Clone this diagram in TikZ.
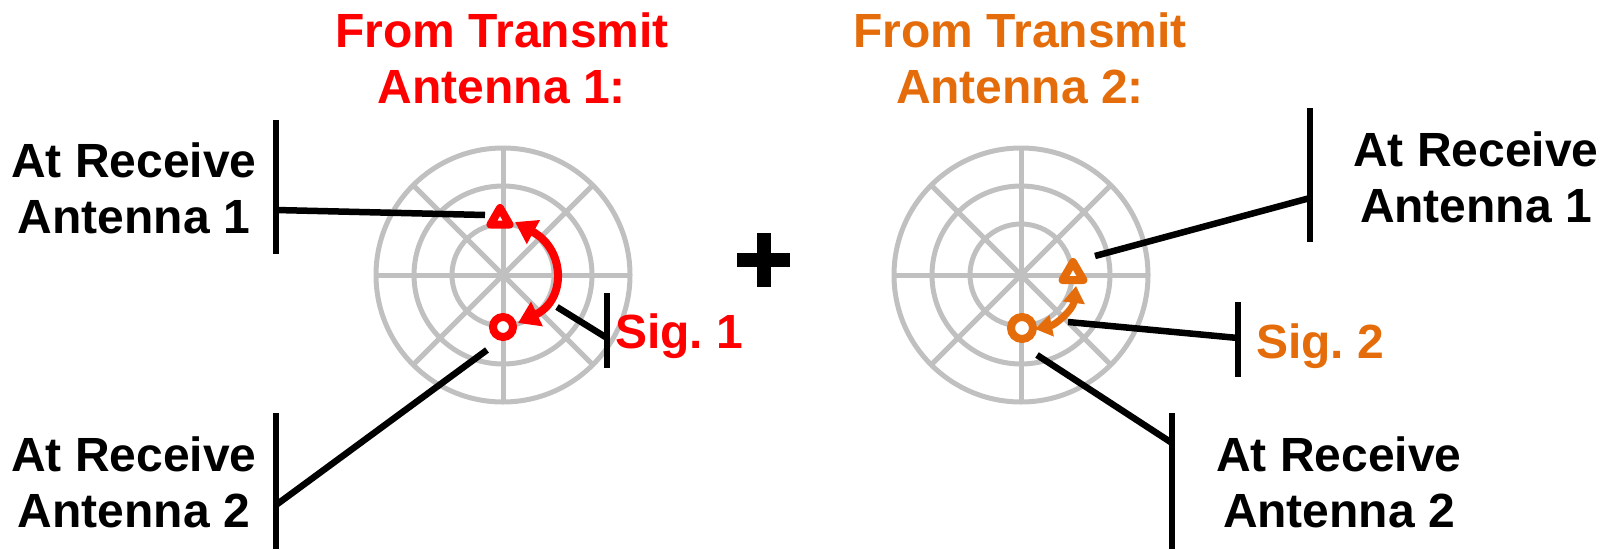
\documentclass[tikz,border=0pt]{standalone}
\usepackage{fontspec}
\setmainfont{Liberation Sans}
\usetikzlibrary{arrows.meta,shapes.geometric,calc}
\definecolor{tred}{RGB}{255,0,0}
\definecolor{torange}{RGB}{228,108,10}
\definecolor{gridgray}{RGB}{192,192,192}
\begin{document}
\frenchspacing
\begin{tikzpicture}[x=1pt,y=-1pt,
  lbl/.style={font=\fontsize{48}{56}\selectfont\bfseries, align=center, inner sep=0pt},
  gridline/.style={draw=gridgray, line width=5pt},
  leader/.style={draw=black, line width=6.5pt},
  tri/.style={regular polygon, regular polygon sides=3, draw, fill=white, line width=8pt, line join=round, inner sep=0pt},
  ring/.style={circle, draw, fill=white, inner sep=0pt},
]
\useasboundingbox (0,0) rectangle (1616,549);

% polar grids
\foreach \cx in {503,1021}{
  \foreach \r in {51,89,127} \draw[gridline] (\cx,275) circle[radius=\r];
  \foreach \a in {0,45,90,135} \draw[gridline] ($(\cx,275)+(\a:127)$) -- ($(\cx,275)+(\a+180:127)$);
}

% plus sign
\draw[line width=14pt] (737,260) -- (790,260);
\draw[line width=14pt] (763.5,233) -- (763.5,287);

% titles
\node[lbl, text=tred, anchor=north] (title1) at (502,13) {From Transmit\\Antenna 1:};
\node[lbl, text=torange, anchor=north] (title2) at (1020,13) {From Transmit\\Antenna 2:};

% receive labels
\node[lbl, anchor=north] (rx1L) at (134,143) {At Receive\\Antenna 1};
\node[lbl, anchor=north] (rx2L) at (134,437) {At Receive\\Antenna 2};
\node[lbl, anchor=north] (rx1R) at (1476,132) {At Receive\\Antenna 1};
\node[lbl, anchor=north] (rx2R) at (1339,437) {At Receive\\Antenna 2};
\node[lbl, text=tred, anchor=base west] (sig1) at (615,348) {Sig. 1};
\node[lbl, text=torange, anchor=base west] (sig2) at (1256,358) {Sig. 2};

% markers
\node[tri, draw=tred, minimum size=22pt] (triA) at (500,219) {};
\node[ring, draw=tred, line width=8pt, minimum size=20pt] (cirA) at (503,327) {};
\node[tri, draw=torange, minimum size=24pt] (triB) at (1073,274) {};
\node[ring, draw=torange, line width=8pt, minimum size=22pt] (cirB) at (1022,328) {};

% arrows
\coordinate (a1s) at (515,222);
\coordinate (a1e) at (518,323);
\draw[tred, line width=8pt, {Triangle[length=21pt,width=26pt]}-{Triangle[length=21pt,width=26pt]}]
  (a1s) .. controls (566,250) and (566,300) .. (a1e);
\coordinate (a2s) at (1035,329);
\coordinate (a2e) at (1076,286);
\draw[torange, line width=7pt, {Triangle[length=17pt,width=21pt]}-{Triangle[length=17pt,width=21pt]}]
  (a2s) .. controls (1055,325) and (1073,310) .. (a2e);

% leaders: left receive 1
\coordinate (j1) at (276,210); \coordinate (e1) at (485,215);
\draw[leader] (276,120) -- (276,254);
\draw[leader] (e1) -- (j1);
% left receive 2
\coordinate (j2) at (276,505); \coordinate (e2) at (487,350);
\draw[leader] (276,413) -- (276,549);
\draw[leader] (e2) -- (j2);
% sig 1
\coordinate (j3) at (607,338); \coordinate (e3) at (557,307);
\draw[leader] (607,293) -- (607,368);
\draw[leader] (e3) -- (j3);
% right receive 1
\coordinate (j4) at (1310,198); \coordinate (e4) at (1095,256);
\draw[leader] (1310,108) -- (1310,242);
\draw[leader] (e4) -- (j4);
% sig 2
\coordinate (j5) at (1238,338); \coordinate (e5) at (1068,322);
\draw[leader] (1238,302) -- (1238,377);
\draw[leader] (e5) -- (j5);
% right receive 2
\coordinate (j6) at (1172,443); \coordinate (e6) at (1037,355);
\draw[leader] (1172,413) -- (1172,549);
\draw[leader] (e6) -- (j6);
\end{tikzpicture}
\end{document}
